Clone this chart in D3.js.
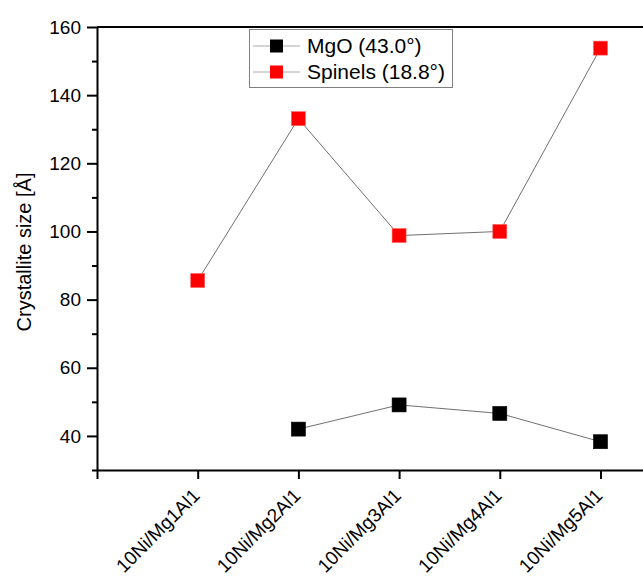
<!DOCTYPE html>
<html>
<head>
<meta charset="utf-8">
<script src="https://cdn.jsdelivr.net/npm/d3@7"></script>
<style>
  body { margin: 0; background: #fff; }
  svg { display: block; font-family: "Liberation Sans", Arial, sans-serif; }
</style>
</head>
<body>
<script>

// Chart data
var samples = ["10Ni/Mg1Al1", "10Ni/Mg2Al1", "10Ni/Mg3Al1", "10Ni/Mg4Al1", "10Ni/Mg5Al1"];
var mgoSize = [null, 42.0, 49.1, 46.6, 38.3];
var spinelSize = [85.6, 133.1, 98.8, 100.0, 153.8];
var seriesNames = ["MgO (43.0°)", "Spinels (18.8°)"];
var yMajorTicks = [40, 60, 80, 100, 120, 140, 160];
var yMinorTicks = [30, 50, 70, 90, 110, 130, 150];

var width = 643, height = 576;
var margin = { left: 97, top: 27, bottom: 470 };

var svg = d3.select("body")
  .append("svg")
    .attr("width", width)
    .attr("height", height);

// Scales: category index on x, size on y
var x = d3.scaleLinear()
  .domain([0, 5.5])
  .range([margin.left, margin.left + 5.5 * 100.7]);

var y = d3.scaleLinear()
  .domain([30, 160])
  .range([margin.bottom, margin.top]);

// Top frame line
svg.append("line")
  .attr("x1", margin.left).attr("x2", width)
  .attr("y1", y(160)).attr("y2", y(160))
  .attr("stroke", "#000").attr("stroke-width", 2);

// Y axis with major and minor ticks
svg.append("g")
  .attr("transform", "translate(" + margin.left + ",0)")
  .call(d3.axisLeft(y).tickValues(yMajorTicks).tickSize(10).tickPadding(6).tickSizeOuter(0));

svg.append("g")
  .attr("transform", "translate(" + margin.left + ",0)")
  .call(d3.axisLeft(y).tickValues(yMinorTicks).tickSize(5).tickFormat("").tickSizeOuter(0))
  .select(".domain").remove();

// X axis
var xAxis = svg.append("g")
  .attr("transform", "translate(0," + margin.bottom + ")")
  .call(d3.axisBottom(x).tickValues([0, 1, 2, 3, 4, 5]).tickSize(9).tickSizeOuter(0)
    .tickFormat(function(d) { return d === 0 ? "" : samples[d - 1]; }));

svg.selectAll(".domain, .tick line")
  .attr("stroke", "#000")
  .attr("stroke-width", 2);

svg.selectAll(".tick text")
  .style("font-size", "19px")
  .attr("fill", "#000");

xAxis.selectAll("text")
  .attr("text-anchor", "end")
  .attr("y", 0)
  .attr("dy", "0.35em")
  .attr("transform", "translate(-2,22) rotate(-45)");

// Y axis title
svg.append("text")
  .attr("transform", "translate(31,252) rotate(-90)")
  .attr("text-anchor", "middle")
  .style("font-size", "20px")
  .text("Crystallite size [Å]");

// Lines and markers
var lineGen = d3.line()
  .defined(function(d) { return d != null; })
  .x(function(d, i) { return x(i + 1); })
  .y(function(d) { return y(d); });

var series = [
  { values: mgoSize, fill: "#000", edge: "#000" },
  { values: spinelSize, fill: "#ff0000", edge: "#ff6060" }
];

series.forEach(function(s) {
  svg.append("path")
    .datum(s.values)
    .attr("d", lineGen)
    .attr("fill", "none")
    .attr("stroke", "#707070")
    .attr("stroke-width", 1);

  svg.selectAll(null)
    .data(s.values.map(function(v, i) { return { v: v, i: i }; }).filter(function(d) { return d.v != null; }))
    .enter()
    .append("rect")
      .attr("x", function(d) { return x(d.i + 1) - 7; })
      .attr("y", function(d) { return y(d.v) - 7; })
      .attr("width", 14)
      .attr("height", 14)
      .attr("fill", s.fill)
      .attr("stroke", s.edge)
      .attr("stroke-width", 0.6);
});

// Legend
var legend = svg.append("g")
  .attr("transform", "translate(249,29)");

legend.append("rect")
  .attr("x", 0.5).attr("y", 0.5)
  .attr("width", 203).attr("height", 58)
  .attr("fill", "#fff")
  .attr("stroke", "#808080")
  .attr("stroke-width", 1);

series.forEach(function(s, i) {
  var cy = 17 + i * 26;
  legend.append("line")
    .attr("x1", 4).attr("x2", 51)
    .attr("y1", cy).attr("y2", cy)
    .attr("stroke", "#aaa").attr("stroke-width", 1);
  legend.append("rect")
    .attr("x", 21).attr("y", cy - 6.5)
    .attr("width", 13).attr("height", 13)
    .attr("fill", s.fill);
  legend.append("text")
    .attr("x", 58).attr("y", cy)
    .attr("dy", "0.35em")
    .style("font-size", "21px")
    .text(seriesNames[i]);
});

</script>
</body>
</html>
